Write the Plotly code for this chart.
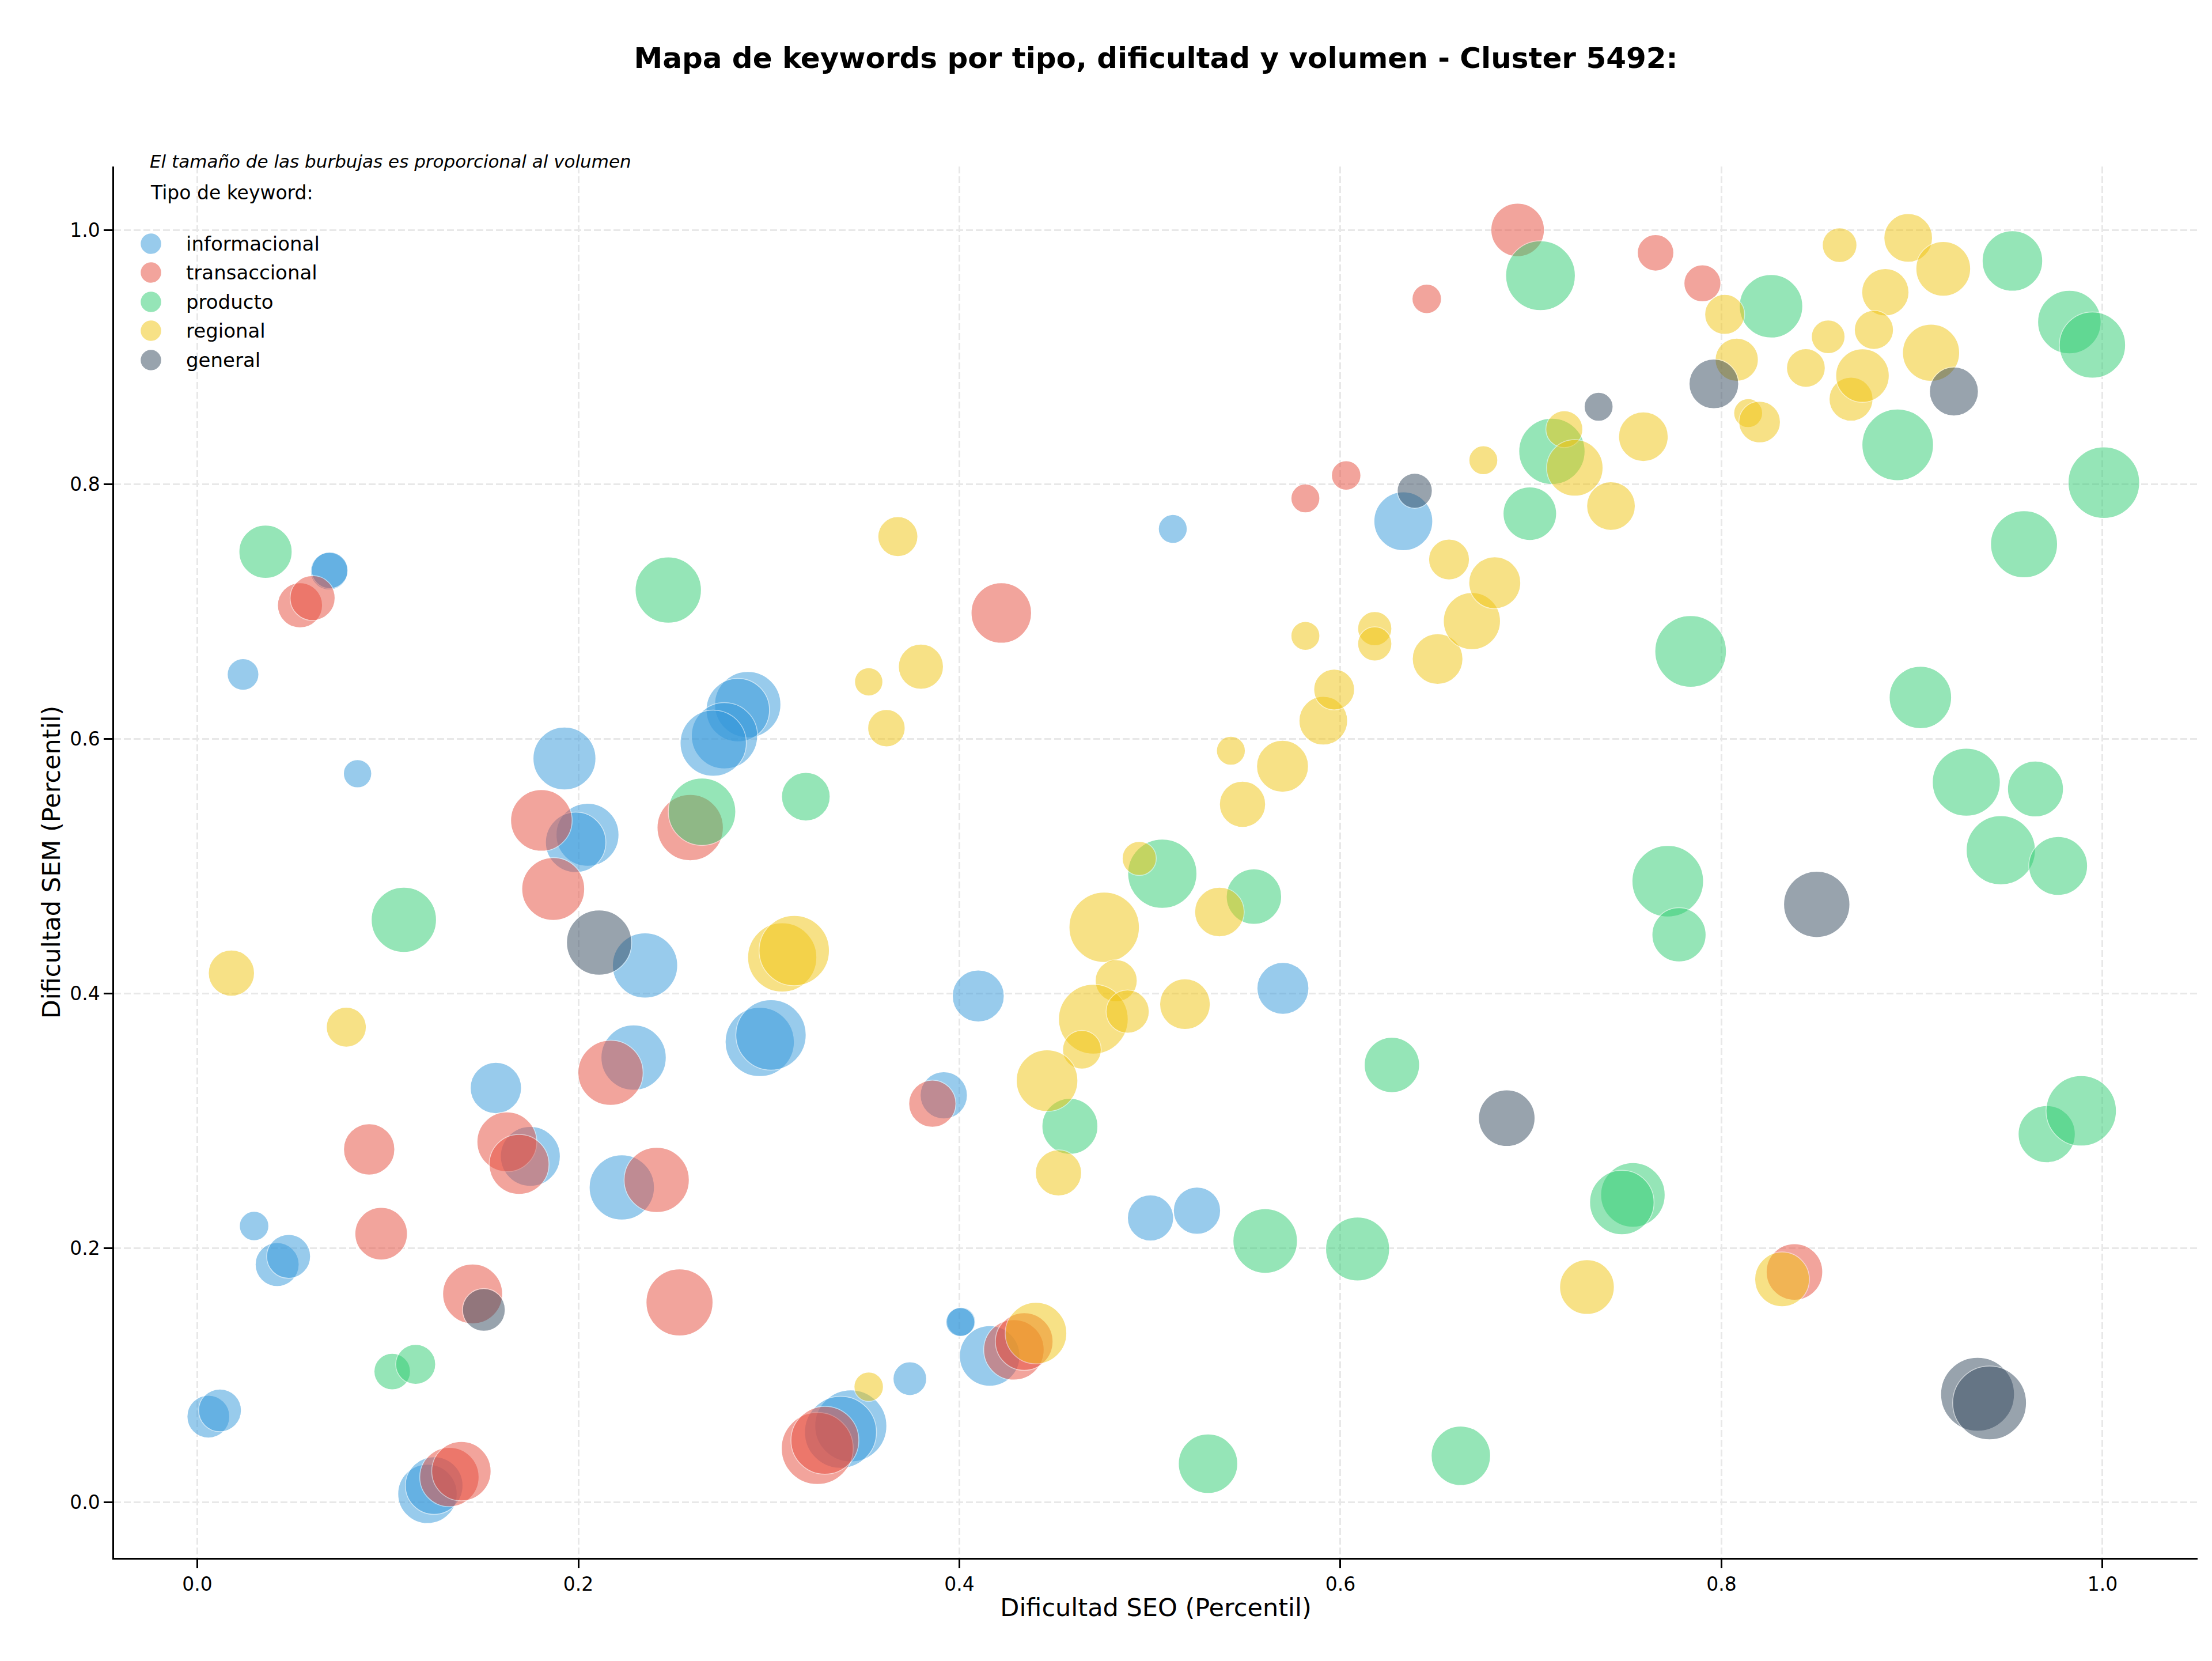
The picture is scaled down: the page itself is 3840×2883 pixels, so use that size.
"""Mapa de keywords por tipo, dificultad y volumen (bubble chart)."""

import numpy as np
from plotly import graph_objects as go

# Data. x = dificultad SEO, y = dificultad SEM, vol = volumen de busqueda.
info_x = [0.0692, 0.0695, 0.024, 0.0841, 0.1927, 0.2048, 0.1986, 0.2889, 0.2837, 0.2767,
          0.2708, 0.235, 0.229, 0.2952, 0.3011, 0.1567, 0.1748, 0.2228, 0.0298, 0.0419,
          0.0479, 0.0058, 0.0119, 0.1208, 0.1243, 0.343, 0.3376, 0.374, 0.4009, 0.4005,
          0.4159, 0.4099, 0.3918, 0.5698, 0.5003, 0.5247, 0.512, 0.633]
info_y = [0.7318, 0.7325, 0.6507, 0.5727, 0.5846, 0.5247, 0.5188, 0.627, 0.6227, 0.6025,
          0.5967, 0.422, 0.3496, 0.3619, 0.3674, 0.3257, 0.272, 0.2476, 0.2173, 0.187,
          0.1934, 0.0675, 0.0724, 0.0068, 0.0133, 0.0602, 0.0552, 0.0973, 0.1421, 0.1418,
          0.1152, 0.398, 0.320, 0.404, 0.2236, 0.2293, 0.765, 0.771]
info_vol = [4200, 4000, 3000, 2400, 11900, 11900, 11000, 13200, 12100, 13200,
            13200, 12800, 12800, 14400, 14900, 7900, 10800, 12800, 2600, 5800,
            5800, 5500, 5500, 10600, 10000, 15600, 15600, 3400, 2500, 2500,
            11000, 8100, 6700, 8100, 6400, 6700, 2500, 10400]

trans_x = [0.0539, 0.0605, 0.1806, 0.1868, 0.2587, 0.2169, 0.2411, 0.1625, 0.1689, 0.0902,
           0.0965, 0.1445, 0.2531, 0.1323, 0.1386, 0.3254, 0.3294, 0.3858, 0.422, 0.4286,
           0.434, 0.693, 0.7654, 0.790, 0.6453, 0.603, 0.5816, 0.8383]
trans_y = [0.705, 0.7107, 0.536, 0.4821, 0.5303, 0.3377, 0.2535, 0.2834, 0.2657, 0.2775,
           0.2112, 0.1639, 0.1572, 0.020, 0.0246, 0.0425, 0.0489, 0.3134, 0.699, 0.12,
           0.1265, 1.000, 0.982, 0.958, 0.9458, 0.807, 0.789, 0.1812]
trans_vol = [6100, 6100, 11400, 11900, 13200, 12800, 12800, 10800, 10800, 7900,
             8300, 10800, 13500, 10600, 10600, 15600, 13900, 6700, 11000, 11000,
             10000, 8600, 4000, 4100, 2600, 2600, 2500, 9600]

prod_x = [0.0358, 0.2472, 0.2649, 0.3194, 0.1084, 0.1023, 0.1146, 0.5065, 0.5546, 0.458,
          0.5305, 0.5605, 0.609, 0.627, 0.6632, 0.6994, 0.711, 0.705, 0.7838, 0.7718,
          0.7777, 0.7535, 0.7477, 0.826, 0.8925, 0.9044, 0.9285, 0.9466, 0.9648, 0.9767,
          0.9707, 0.9888, 0.9527, 0.9826, 0.9947, 1.0007, 0.9588]
prod_y = [0.7471, 0.717, 0.5428, 0.5546, 0.4579, 0.1029, 0.1086, 0.4941, 0.4761, 0.2956,
          0.0305, 0.2055, 0.1992, 0.3438, 0.0367, 0.777, 0.826, 0.964, 0.6688, 0.4882,
          0.4461, 0.2417, 0.2358, 0.940, 0.8311, 0.6326, 0.566, 0.5125, 0.5607, 0.5002,
          0.2895, 0.3078, 0.9756, 0.9276, 0.9095, 0.8014, 0.753]
prod_vol = [8500, 13200, 13700, 7100, 12800, 4000, 4800, 14400, 9200, 9400,
            10600, 12500, 12300, 9200, 10600, 8600, 13200, 14600, 15400, 15400,
            8800, 12500, 12500, 12100, 15400, 11700, 13900, 14400, 9400, 10400,
            9800, 14900, 11000, 12100, 13200, 15400, 13500]

reg_x = [0.0179, 0.0782, 0.3677, 0.3798, 0.3524, 0.3617, 0.307, 0.3133, 0.476, 0.4823,
         0.4703, 0.4883, 0.5184, 0.4643, 0.446, 0.452, 0.4944, 0.5365, 0.5486, 0.5425,
         0.5696, 0.591, 0.5967, 0.5816, 0.618, 0.618, 0.651, 0.669, 0.681, 0.657,
         0.675, 0.7175, 0.723, 0.742, 0.759, 0.8017, 0.808, 0.814, 0.820, 0.862,
         0.856, 0.8443, 0.868, 0.874, 0.886, 0.880, 0.898, 0.9164, 0.910, 0.7294,
         0.8318, 0.4402, 0.3524]
reg_y = [0.416, 0.3735, 0.759, 0.6568, 0.6449, 0.6085, 0.4283, 0.4337, 0.452, 0.410,
         0.3798, 0.3858, 0.3916, 0.3558, 0.3315, 0.259, 0.5061, 0.464, 0.5487, 0.5907,
         0.5785, 0.6143, 0.6388, 0.681, 0.6867, 0.6747, 0.6628, 0.6926, 0.7227, 0.741,
         0.819, 0.8434, 0.813, 0.783, 0.8375, 0.9336, 0.898, 0.856, 0.849, 0.988,
         0.916, 0.8915, 0.867, 0.8855, 0.951, 0.9214, 0.9937, 0.9694, 0.9035, 0.1693,
         0.1754, 0.1331, 0.091]
reg_vol = [6400, 4800, 4800, 6100, 2400, 4200, 14400, 14900, 14900, 5300,
           14600, 5600, 7700, 4500, 11400, 6400, 3500, 7400, 6400, 2500,
           8100, 7100, 5000, 2500, 3500, 3500, 7700, 9800, 8100, 5000,
           2500, 4100, 9600, 7100, 7400, 4800, 5600, 2500, 5200, 3600,
           3400, 4500, 5800, 8600, 6700, 4600, 7100, 9000, 9800, 9000,
           9000, 11400, 2600]

gen_x = [0.2109, 0.1504, 0.639, 0.7355, 0.796, 0.922, 0.850, 0.6873, 0.9344, 0.9407]
gen_y = [0.440, 0.1514, 0.795, 0.861, 0.879, 0.873, 0.470, 0.302, 0.0851, 0.0783]
gen_vol = [12800, 5500, 3700, 2500, 7400, 7200, 13200, 9600, 16400, 16400]

tipos = ["informacional", "transaccional", "producto", "regional", "general"]
colores = ["#3498db", "#e74c3c", "#2ecc71", "#f1c40f", "#34495e"]
series = [
    (info_x, info_y, info_vol),
    (trans_x, trans_y, trans_vol),
    (prod_x, prod_y, prod_vol),
    (reg_x, reg_y, reg_vol),
    (gen_x, gen_y, gen_vol),
]

FONT = "DejaVu Sans"

fig = go.Figure()

for tipo, color, (xs, ys, vols) in zip(tipos, colores, series):
    fig.add_trace(
        go.Scatter(
            x=xs,
            y=ys,
            mode="markers",
            name=tipo,
            showlegend=False,
            marker=dict(
                size=np.sqrt(np.array(vols, dtype=float)),
                sizemode="diameter",
                color=color,
                opacity=0.5,
                line=dict(color="white", width=1.5),
            ),
        )
    )

# the page body has an 8px margin, so the figure is a bit smaller than the window
fig.update_layout(
    width=3824,
    height=2867,
    margin=dict(l=190, r=17, t=281, b=171),
    paper_bgcolor="white",
    plot_bgcolor="white",
    font=dict(family=FONT, size=33, color="black"),
    title=dict(
        text="Mapa de keywords por tipo, dificultad y volumen - Cluster 5492:",
        font=dict(family=FONT, size=50, color="black", weight="bold"),
        x=0.5,
        xref="paper",
        xanchor="center",
        y=1 - 92 / 2867,
        yref="container",
        yanchor="middle",
    ),
)

axis_style = dict(
    showline=True,
    linecolor="black",
    linewidth=3.3,
    ticks="outside",
    ticklen=14.6,
    tickwidth=3.3,
    tickcolor="black",
    tickfont=dict(family=FONT, size=33, color="black"),
    ticklabelstandoff=0,
    showgrid=True,
    gridcolor="#e8e8e8",
    gridwidth=3,
    griddash="12px,5px",
    zeroline=False,
    dtick=0.2,
    tick0=0,
    tickformat=".1f",
)

fig.update_xaxes(
    range=[-0.0437, 1.0499],
    title=dict(text="Dificultad SEO (Percentil)", font=dict(family=FONT, size=43, color="black"), standoff=7),
    **axis_style,
)
fig.update_yaxes(
    range=[-0.0435, 1.0498],
    title=dict(text="Dificultad SEM (Percentil)", font=dict(family=FONT, size=43, color="black"), standoff=4),
    **axis_style,
)

# Bubble size note and legend, drawn by hand so the legend markers keep their size.
fig.add_annotation(
    text="El tamaño de las burbujas es proporcional al volumen",
    xref="paper", yref="paper", x=0.0166, y=1.0037,
    xanchor="left", yanchor="middle", showarrow=False,
    font=dict(family=FONT, size=31, color="black", style="italic"),
)
fig.add_annotation(
    text="Tipo de keyword:",
    xref="paper", yref="paper", x=0.0169, y=0.981,
    xanchor="left", yanchor="middle", showarrow=False,
    font=dict(family=FONT, size=33, color="black"),
)

legend_rows = [0.9445, 0.9238, 0.9027, 0.8820, 0.8609]
for tipo, color, row in zip(tipos, colores, legend_rows):
    fig.add_shape(
        type="circle",
        xref="paper", yref="paper",
        xsizemode="pixel", ysizemode="pixel",
        xanchor=0.0177, yanchor=row,
        x0=-18.5, x1=18.5, y0=-18.5, y1=18.5,
        fillcolor=color, opacity=0.5,
        line=dict(color="white", width=1.5),
    )
    fig.add_annotation(
        text=tipo,
        xref="paper", yref="paper", x=0.034, y=row,
        xanchor="left", yanchor="middle", showarrow=False,
        font=dict(family=FONT, size=34, color="black"),
    )

fig.write_html("out.html")
